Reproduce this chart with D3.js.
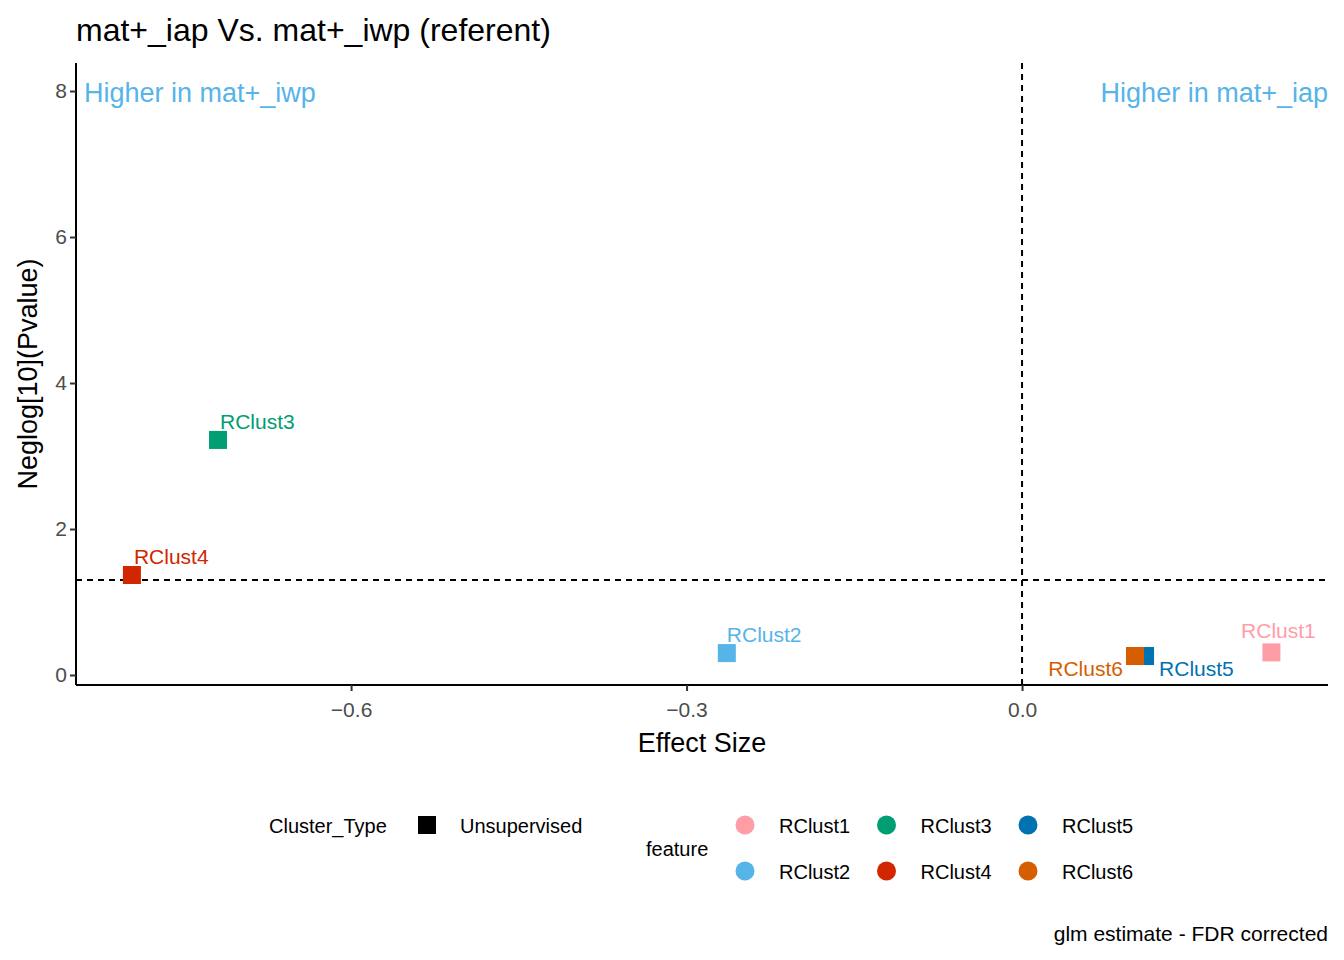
<!DOCTYPE html>
<html><head><meta charset="utf-8">
<script src="https://cdn.jsdelivr.net/npm/d3@7"></script>
<style>body{margin:0;background:#fff}text{font-family:Arial,"Liberation Sans",sans-serif}</style>
</head><body><div id="viz"></div>
<script>
// data
const features = ["RClust1", "RClust2", "RClust3", "RClust4", "RClust5", "RClust6"];
const effectSize = [0.223, -0.264, -0.719, -0.796, 0.110, 0.101];
const negLogP = [0.31, 0.30, 3.22, 1.37, 0.26, 0.26];
const colors = ["#FF9DA7", "#56B4E9", "#009E73", "#D12600", "#0072B2", "#D55E00"];
// label nudges (repel result), pixels
const labelDx = [7, 0, 2, 2, 14, -12];
const labelDy = [-14, -11, -11, -11, 20, 20];
const labelAnchor = ["middle", "start", "start", "start", "start", "end"];
const xTicks = [-0.6, -0.3, 0.0];
const yTicks = [0, 2, 4, 6, 8];

const W = 1344, H = 960;
const m = {left: 76, right: 1328, top: 63, bottom: 685};
const svg = d3.select("#viz").append("svg").attr("width", W).attr("height", H);

const x = d3.scaleLinear().domain([-0.846, 0.2736]).range([m.left, m.right]);
const y = d3.scaleLinear().domain([-0.137, 8.384]).range([m.bottom, m.top]);

// title
svg.append("text").attr("x", 76).attr("y", 41).attr("font-size", 32).text("mat+_iap Vs. mat+_iwp (referent)");

// reference lines
svg.append("line").attr("x1", m.left).attr("x2", m.right).attr("y1", y(1.301)).attr("y2", y(1.301))
  .attr("stroke", "#000").attr("stroke-width", 2).attr("stroke-dasharray", "6,5");
svg.append("line").attr("x1", x(0)).attr("x2", x(0)).attr("y1", m.top).attr("y2", m.bottom)
  .attr("stroke", "#000").attr("stroke-width", 2).attr("stroke-dasharray", "6,5");

// axes
const xa = svg.append("g").attr("transform", `translate(0,${m.bottom})`)
  .call(d3.axisBottom(x).tickValues(xTicks).tickFormat(d3.format(".1f")).tickSizeOuter(0).tickSize(6));
const ya = svg.append("g").attr("transform", `translate(${m.left},0)`)
  .call(d3.axisLeft(y).tickValues(yTicks).tickSizeOuter(0).tickSize(6));
[xa, ya].forEach(a => {
  a.select(".domain").attr("stroke-width", 2).attr("stroke", "#000");
  a.selectAll(".tick line").attr("stroke", "#333").attr("stroke-width", 2);
  a.selectAll(".tick text").attr("font-size", 21).attr("fill", "#4d4d4d").attr("font-family", "Arial");
});
xa.select(".domain").attr("d", `M${m.left},0H${m.right}`);
ya.select(".domain").attr("d", `M0,${m.bottom}V${m.top}`);
xa.selectAll(".tick text").attr("dy", "1.1em");

svg.append("text").attr("x", (m.left + m.right) / 2).attr("y", 752).attr("text-anchor", "middle")
  .attr("font-size", 27).text("Effect Size");
svg.append("text").attr("transform", `translate(37,${(m.top + m.bottom) / 2}) rotate(-90)`)
  .attr("text-anchor", "middle").attr("font-size", 27).text("Neglog[10](Pvalue)");

// corner annotations
svg.append("text").attr("x", 84).attr("y", 102).attr("font-size", 27).attr("fill", "#56B4E9").text("Higher in mat+_iwp");
svg.append("text").attr("x", 1328).attr("y", 102).attr("text-anchor", "end").attr("font-size", 27).attr("fill", "#56B4E9").text("Higher in mat+_iap");

// points
const idx = d3.range(features.length);
svg.selectAll("rect.pt").data(idx).join("rect").attr("class", "pt")
  .attr("x", i => x(effectSize[i]) - 9).attr("y", i => y(negLogP[i]) - 9)
  .attr("width", 18).attr("height", 18).attr("fill", i => colors[i]);
svg.selectAll("text.lbl").data(idx).join("text").attr("class", "lbl")
  .attr("x", i => x(effectSize[i]) + labelDx[i]).attr("y", i => y(negLogP[i]) + labelDy[i])
  .attr("text-anchor", i => labelAnchor[i]).attr("font-size", 21).attr("fill", i => colors[i])
  .text(i => features[i]);

// legend
svg.append("text").attr("x", 269).attr("y", 833).attr("font-size", 20).text("Cluster_Type");
svg.append("rect").attr("x", 418).attr("y", 816).attr("width", 18).attr("height", 18).attr("fill", "#000");
svg.append("text").attr("x", 460).attr("y", 833).attr("font-size", 20).text("Unsupervised");
svg.append("text").attr("x", 646).attr("y", 856).attr("font-size", 20).text("feature");
idx.forEach(i => {
  const col = Math.floor(i / 2), row = i % 2;
  const cx = 745 + col * 141.5, cy = 825 + row * 46;
  svg.append("circle").attr("cx", cx).attr("cy", cy).attr("r", 9.5).attr("fill", colors[i]);
  svg.append("text").attr("x", cx + 34).attr("y", cy + 8).attr("font-size", 20).text(features[i]);
});

svg.append("text").attr("x", 1328).attr("y", 941).attr("text-anchor", "end").attr("font-size", 21).text("glm estimate - FDR corrected");
</script></body></html>
